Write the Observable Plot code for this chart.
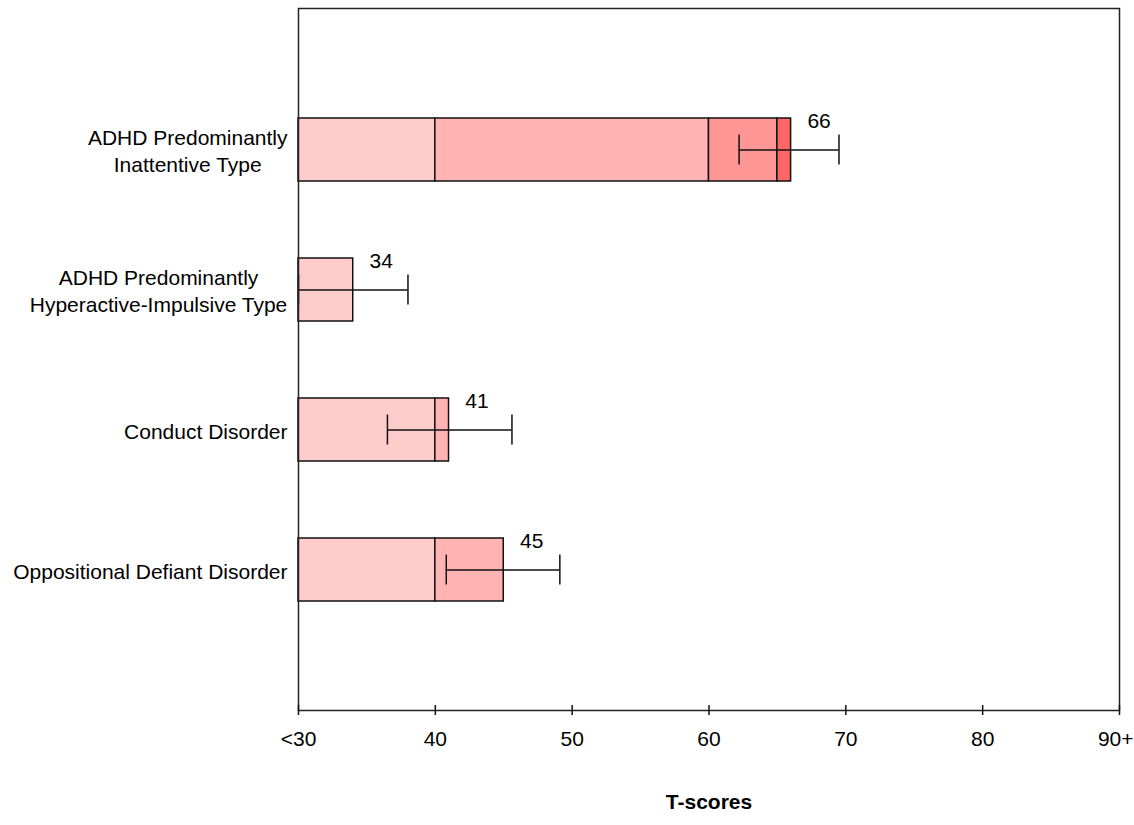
<!DOCTYPE html>
<html>
<head>
<meta charset="utf-8">
<script src="https://cdn.jsdelivr.net/npm/d3@7"></script>
<script src="https://cdn.jsdelivr.net/npm/@observablehq/plot@0.6"></script>
<style>
  html, body { margin: 0; padding: 0; background: #fff; }
  #chart svg { display: block; }
</style>
</head>
<body>
<div id="chart"></div>
<script>
// ---- data ----
const categories = [
  "ADHD Predominantly Inattentive Type",
  "ADHD Predominantly Hyperactive-Impulsive Type",
  "Conduct Disorder",
  "Oppositional Defiant Disorder"
];
const categoryLabels = [
  "ADHD Predominantly\nInattentive Type",
  "ADHD Predominantly\nHyperactive-Impulsive Type",
  "Conduct Disorder",
  "Oppositional Defiant Disorder"
];
const scores  = [66, 34, 41, 45];
const errLow  = [62.2, 30, 36.5, 40.8];
const errHigh = [69.5, 38, 45.6, 49.1];
const bandEdges  = [30, 40, 60, 65, 90];
const bandColors = ["#ffcccc", "#ffb3b3", "#ff9696", "#ff6666"];
const xTicks      = [30, 40, 50, 60, 70, 80, 90];
const xTickLabels = ["<30", "40", "50", "60", "70", "80", "90+"];
const xTitle = "T-scores";

// ---- derived tables ----
const segments = [];
categories.forEach((cat, i) => {
  for (let k = 0; k < bandColors.length; k++) {
    const a = bandEdges[k], b = Math.min(bandEdges[k + 1], scores[i]);
    if (b > a) segments.push({cat, x1: a, x2: b, color: bandColors[k]});
  }
});
const rows = categories.map((cat, i) => ({cat, score: scores[i], lo: errLow[i], hi: errHigh[i]}));
const caps = rows.flatMap(r => [{cat: r.cat, v: r.lo}, {cat: r.cat, v: r.hi}]);
const tickRows = xTicks.map((v, i) => ({v, label: xTickLabels[i]}));
const lastTick = tickRows[tickRows.length - 1];
const innerTicks = tickRows.slice(0, -1);

const FONT = "'Liberation Sans', Arial, sans-serif";
const FS = 21;
const ctx = document.createElement("canvas").getContext("2d");
ctx.font = `${FS}px ${FONT}`;
const labelWidth = s => Math.max(...s.split("\n").map(l => ctx.measureText(l).width));

const labelMarks = categories.map((cat, i) =>
  Plot.text([cat], {
    y: d => d,
    text: () => categoryLabels[i],
    frameAnchor: "left",
    textAnchor: "middle",
    lineHeight: 1.3,
    fontSize: FS,
    fill: "black",
    dx: -(11 + labelWidth(categoryLabels[i]) / 2)
  })
);

const chart = Plot.plot({
  width: 1134,
  height: 825,
  marginLeft: 298,
  marginRight: 15,
  marginTop: 8,
  marginBottom: 115,
  style: {fontFamily: FONT, fontSize: `${FS}px`, background: "#fff", color: "black"},
  x: {domain: [30, 90], axis: null},
  y: {type: "band", domain: categories, paddingInner: 0.55, paddingOuter: 0.775, axis: null},
  marks: [
    Plot.barX(segments, {x1: "x1", x2: "x2", y: "cat", fill: "color", stroke: "#111", strokeWidth: 1.5}),
    Plot.ruleY(rows, {y: "cat", x1: "lo", x2: "hi", stroke: "#111", strokeWidth: 1.5}),
    Plot.tickX(caps, {x: "v", y: "cat", insetTop: 16.5, insetBottom: 16.5, stroke: "#111", strokeWidth: 1.5}),
    Plot.text(rows, {x: "score", y: "cat", text: d => String(d.score), dx: 28, dy: -29, fontSize: FS, fill: "black"}),
    Plot.frame({stroke: "#222", strokeWidth: 1.5}),
    Plot.axisX(xTicks, {anchor: "bottom", tickSize: 10, dy: -5, tickFormat: () => "", stroke: "#111", strokeWidth: 1.5}),
    Plot.text(innerTicks, {x: "v", text: "label", frameAnchor: "bottom", dy: 35, fontSize: FS, fill: "black"}),
    Plot.text([lastTick], {x: "v", text: "label", frameAnchor: "bottom", textAnchor: "end", dx: 14, dy: 35, fontSize: FS, fill: "black"}),
    Plot.text([xTitle], {text: d => d, frameAnchor: "bottom", dy: 98, fontSize: FS, fontWeight: "bold", fill: "black"}),
    ...labelMarks
  ]
});
document.getElementById("chart").appendChild(chart);
</script>
</body>
</html>
